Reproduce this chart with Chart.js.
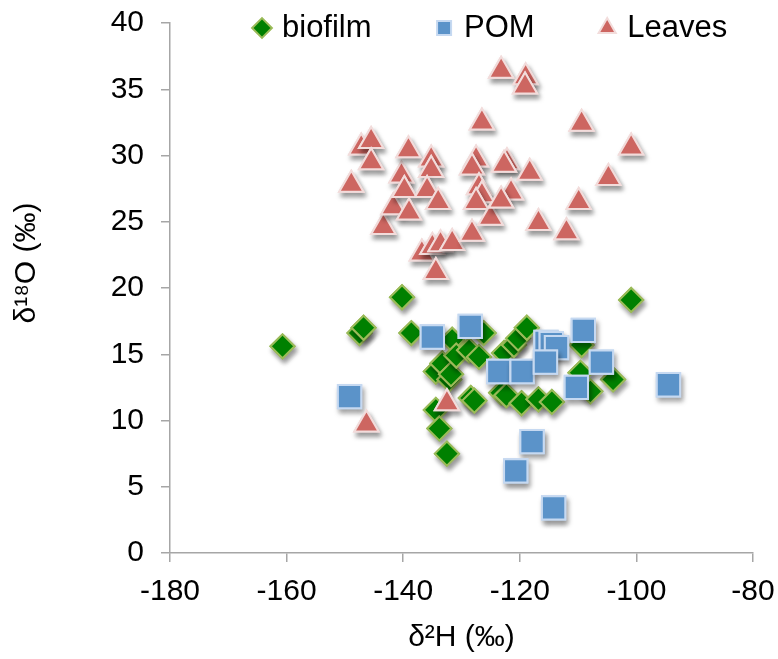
<!DOCTYPE html>
<html>
<head>
<meta charset="utf-8">
<script src="https://cdn.jsdelivr.net/npm/chart.js@4/dist/chart.umd.min.js"></script>
<style>
  html, body { margin: 0; padding: 0; background: #fff; }
  #wrap { width: 778px; height: 659px; }
</style>
</head>
<body>
<div id="wrap"><canvas id="isoChart" width="778" height="659"></canvas></div>
<script>
// d2H / d18O values
var biofilmX = [-160.7, -147.5, -146.8, -140.2, -138.6, -134.4, -133.3, -132.1, -131.8, -134.4, -133.8,
    -132.5, -131.6, -130.9, -128.7, -128.4, -127.8, -127.0, -126.2, -123.2, -122.3, -122.7, -121.0,
    -120.3, -119.7, -118.8, -116.8, -114.5, -109.4, -109.6, -107.9, -104.0, -100.9];
var biofilmY = [15.6, 16.6, 17.0, 19.3, 16.6, 13.7, 14.3, 13.1, 13.5, 10.8, 9.4,
    7.5, 16.1, 14.9, 15.3, 11.7, 11.5, 14.8, 16.6, 12.1, 11.9, 15.1, 15.7,
    16.2, 11.3, 17.0, 11.6, 11.4, 15.7, 13.6, 12.2, 13.1, 19.1];

var pomX = [-149.2, -135.0, -128.5, -123.6, -119.6, -115.5, -114.6, -113.7, -115.6, -109.1, -106.0,
    -110.3, -94.5, -117.9, -120.7, -114.2];
var pomY = [11.8, 16.3, 17.1, 13.7, 13.7, 15.9, 15.8, 15.5, 14.4, 16.8, 14.4,
    12.5, 12.7, 8.4, 6.2, 3.4];

var leavesX = [-148.9, -147.2, -145.5, -145.5, -143.4, -141.7, -140.3, -139.8, -139.1, -139.0, -135.2,
    -135.2, -135.9, -134.0, -136.8, -135.0, -133.6, -131.6, -134.4, -128.2, -127.5, -128.2, -127.0,
    -126.5, -127.5, -126.5, -125.0, -123.2, -119.0, -119.1, -122.2, -122.7, -121.5, -123.2, -118.3,
    -116.8, -112.0, -109.9, -109.4, -104.8, -100.9, -146.3, -132.5];
var leavesY = [27.8, 30.6, 31.1, 29.5, 24.6, 26.1, 28.5, 27.4, 30.4, 25.7, 29.7,
    28.9, 27.4, 26.5, 22.6, 23.1, 23.3, 23.4, 21.2, 24.1, 29.7, 29.1, 27.6,
    27.0, 26.5, 32.5, 25.3, 36.4, 35.9, 35.2, 29.5, 29.3, 27.2, 26.6, 28.7,
    24.9, 24.2, 26.5, 32.4, 28.3, 30.6, 9.7, 11.3];

var seriesNames = ['biofilm', 'POM', 'Leaves'];
var xTitle = 'δ²H (‰)';
var yTitle = 'δ¹⁸O (‰)';

function toPoints(xs, ys) {
    return xs.map(function (x, i) { return { x: x, y: ys[i] }; });
}

Chart.defaults.font.family = "'Liberation Sans', Arial, sans-serif";
Chart.defaults.color = '#000';

var axisGrey = '#a6a6a6';
var legendPad = 68;

// draw each marker with a soft drop shadow first, then clean on top
var shadowPlugin = {
    id: 'markerShadow',
    beforeDatasetDraw: function (chart, args) {
        var ctx = chart.ctx;
        args.meta.data.forEach(function (pt) {
            ctx.save();
            ctx.shadowColor = 'rgba(0,0,0,0.4)';
            ctx.shadowBlur = 5;
            ctx.shadowOffsetX = 2;
            ctx.shadowOffsetY = 4;
            pt.draw(ctx, chart.chartArea);
            ctx.restore();
            pt.draw(ctx, chart.chartArea);
        });
        return false;
    }
};

// put legend row at the top of the plot like the original
var legendPlace = {
    id: 'legendPlace',
    afterUpdate: function (chart) {
        var lg = chart.legend;
        lg.left = 257.5 - legendPad;
        lg.right = 2000;
        lg.top = 12.5 - legendPad;
        lg.bottom = lg.top + 100;
    }
};

var ctx = document.getElementById('isoChart').getContext('2d');
var myChart = new Chart(ctx, {
    type: 'scatter',
    data: {
        datasets: [{
            label: seriesNames[0],
            data: toPoints(biofilmX, biofilmY),
            pointStyle: 'rectRot',
            pointRadius: 12,
            backgroundColor: '#008000',
            borderColor: '#9bbb59',
            borderWidth: 2,
            order: 2
        }, {
            label: seriesNames[1],
            data: toPoints(pomX, pomY),
            pointStyle: 'rect',
            pointRadius: 16.5,
            backgroundColor: '#5b93c9',
            borderColor: '#c6d9f1',
            borderWidth: 2,
            order: 1
        }, {
            label: seriesNames[2],
            data: toPoints(leavesX, leavesY),
            pointStyle: 'triangle',
            pointRadius: 14,
            backgroundColor: '#cd6661',
            borderColor: '#f2dcdb',
            borderWidth: 2,
            order: 0
        }]
    },
    options: {
        responsive: false,
        animation: false,
        events: [],
        layout: {
            padding: { top: 22, right: 25, left: 0, bottom: 0 }
        },
        plugins: {
            tooltip: { enabled: false },
            legend: {
                position: 'top',
                align: 'start',
                maxHeight: 1,
                labels: {
                    usePointStyle: true,
                    boxWidth: 9,
                    boxHeight: 14,
                    padding: legendPad,
                    font: { size: 31 },
                    color: '#000',
                    sort: function (a, b) { return a.datasetIndex - b.datasetIndex; }
                }
            }
        },
        scales: {
            x: {
                type: 'linear',
                min: -180,
                max: -80,
                ticks: { stepSize: 20, font: { size: 30 }, padding: 12, color: '#000' },
                grid: { drawOnChartArea: false, tickLength: 9, tickColor: axisGrey, lineWidth: 1.5 },
                border: { color: axisGrey, width: 1.5 },
                title: { display: true, text: xTitle, font: { size: 30 }, padding: { top: 0, bottom: 3 } },
                afterFit: function (axis) {
                    axis.height = 106;
                    axis.paddingLeft = 0;
                    axis.paddingRight = 0;
                }
            },
            y: {
                type: 'linear',
                min: 0,
                max: 40,
                ticks: { stepSize: 5, font: { size: 30 }, padding: 17, color: '#000' },
                grid: { drawOnChartArea: false, tickLength: 9, tickColor: axisGrey, lineWidth: 1.5 },
                border: { color: axisGrey, width: 1.5 },
                title: { display: true, text: '      ' + yTitle, font: { size: 30 }, padding: { top: 9, bottom: 0 } },
                afterFit: function (axis) {
                    axis.width = 170;
                    axis.paddingTop = 0;
                    axis.paddingBottom = 0;
                }
            }
        }
    },
    plugins: [shadowPlugin, legendPlace]
});
</script>
</body>
</html>
